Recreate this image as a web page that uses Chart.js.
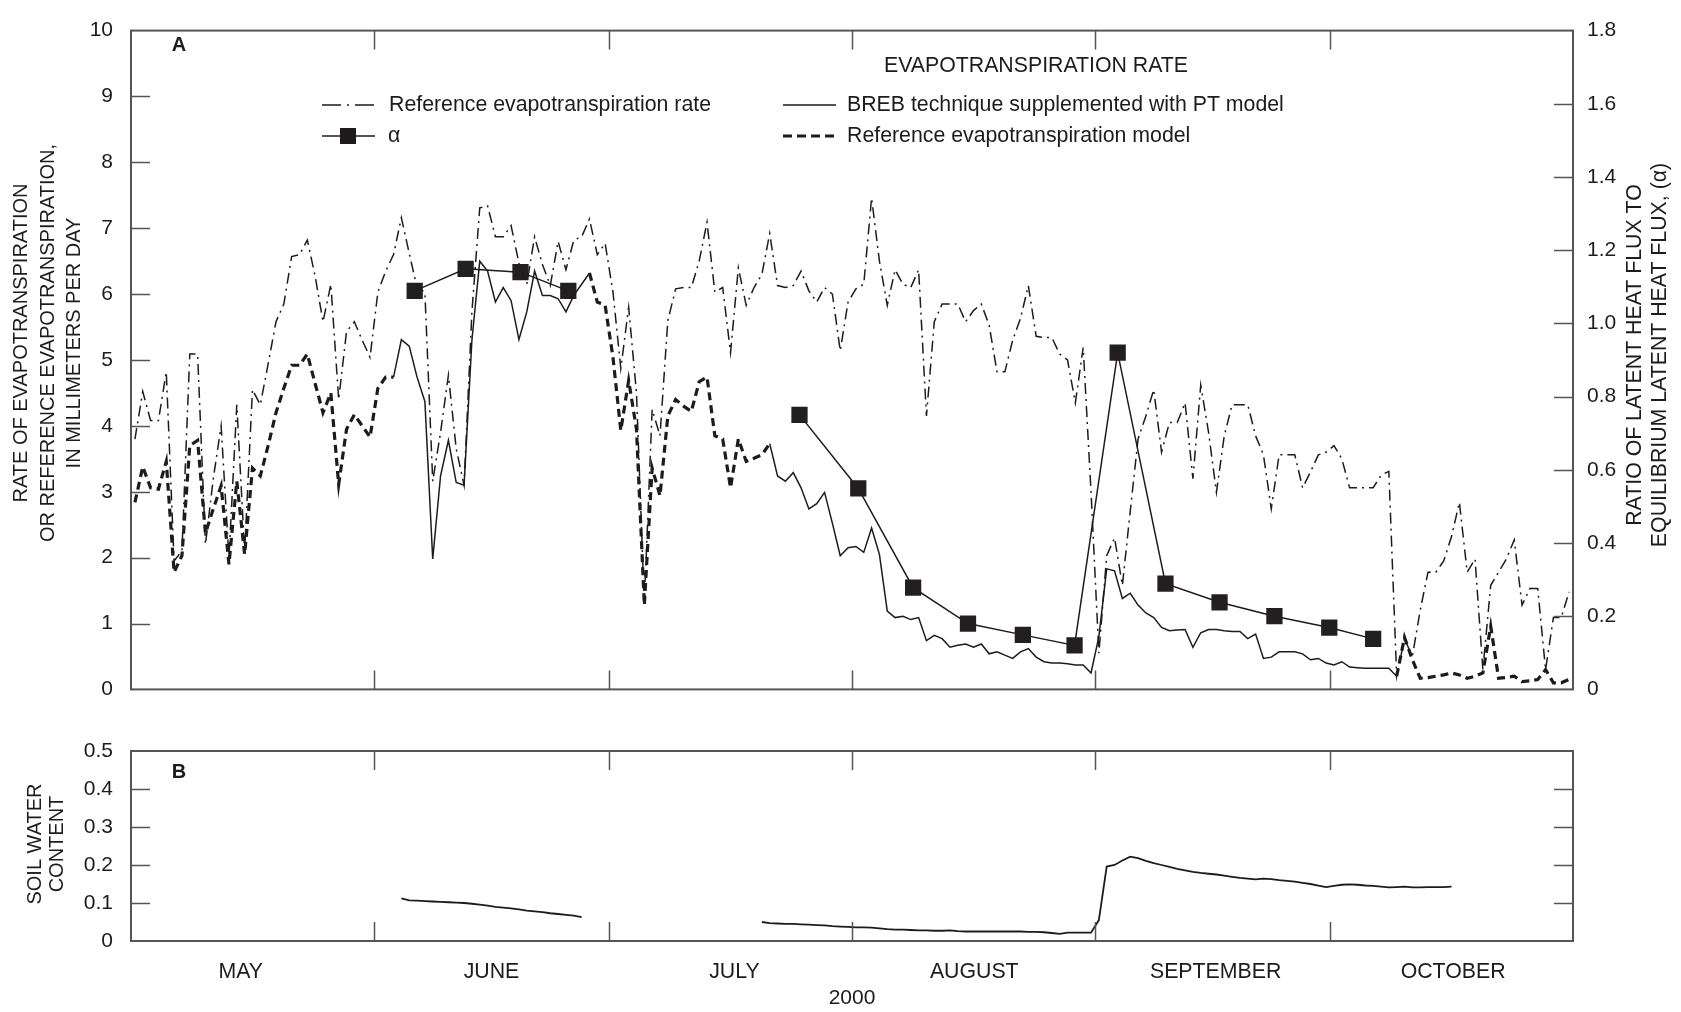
<!DOCTYPE html>
<html lang="en">
<head>
<meta charset="UTF-8">
<title>Evapotranspiration rate and soil water content, 2000</title>
<script src="https://cdn.jsdelivr.net/npm/chart.js"></script>
<style>
  body { margin: 0; background: #fff; }
  .wrap { position: relative; width: 1681px; height: 1012px; }
  #etChart { position: absolute; left: 0; top: 0; }
  #soilChart { position: absolute; left: 0; top: 720px; }
</style>
</head>
<body>
<div class="wrap">
  <canvas id="etChart" width="1681" height="720"></canvas>
  <canvas id="soilChart" width="1681" height="292"></canvas>
</div>
<script>
// ---- data: one value per day, index 0 = May 1, 2000 ----
const monthLabels = ['MAY', 'JUNE', 'JULY', 'AUGUST', 'SEPTEMBER', 'OCTOBER'];
const monthLabelAt = [14, 46, 77, 107.6, 138.4, 168.7];
const monthStarts = [0, 31, 61, 92, 123, 153, 184];
const yearLabel = '2000';

// reference evapotranspiration rate (mm/day), May 1 - Oct 31
const refEtRate = [
  3.8, 4.52, 4.08, 4.08, 4.82, 1.95, 2.1, 5.09, 5.09, 2.2, 3.2, 4.0, 2.0, 4.32, 2.1, 4.55,
  4.32, 4.94, 5.58, 5.85, 6.57, 6.6, 6.82, 6.27, 5.58, 6.15, 4.4, 5.43, 5.58, 5.3, 5.04,
  6.03, 6.35, 6.6, 7.16, 6.62, 6.1, 6.03, 3.16, 3.9, 4.77, 3.65, 3.1, 5.73, 7.31, 7.34,
  6.87, 6.87, 7.04, 6.47, 6.15, 6.87, 6.45, 6.13, 6.8, 6.37, 6.82, 6.87, 7.14, 6.6, 6.77,
  6.03, 4.87, 5.8, 4.5, 1.3, 4.25, 3.85, 5.6, 6.08, 6.1, 6.1, 6.5, 7.09, 6.03, 6.1, 5.11,
  6.4, 5.83, 6.1, 6.3, 6.92, 6.13, 6.1, 6.13, 6.35, 6.05, 5.88, 6.1, 6.0, 5.14, 5.88,
  6.08, 6.15, 7.46, 6.5, 5.83, 6.37, 6.15, 6.1, 6.37, 4.15, 5.58, 5.85, 5.85, 5.85, 5.58,
  5.75, 5.85, 5.53, 4.82, 4.82, 5.3, 5.63, 6.13, 5.36, 5.34, 5.34, 5.09, 5.0, 4.35, 5.19, 3.0,
  0.55, 2.03, 2.3, 1.58, 2.7, 3.8, 4.15, 4.55, 3.6, 4.05, 4.05, 4.35, 3.2, 4.62, 3.9,
  2.99, 3.85, 4.32, 4.32, 4.32, 3.85, 3.56, 2.74, 3.56, 3.56, 3.56, 3.06, 3.3, 3.56, 3.6,
  3.7, 3.5, 3.06, 3.06, 3.06, 3.06, 3.25, 3.31, 0.2, 0.77, 0.5, 1.2, 1.78, 1.78, 1.95, 2.32,
  2.84, 1.78, 1.98, 0.3, 1.58, 1.78, 1.98, 2.27, 1.28, 1.53, 1.53, 0.3, 1.09, 1.09, 1.48
];

// reference evapotranspiration model, used where BREB data are missing
const refModelMay = [ // from day 0
  2.84, 3.38, 3.06, 3.04, 3.46, 1.78, 2.03, 3.7, 3.78, 2.37, 2.74, 3.09, 1.9, 3.16, 2.05, 3.36,
  3.24, 3.7, 4.2, 4.57, 4.92, 4.92, 5.09, 4.64, 4.2, 4.5, 3.11, 3.95, 4.17, 4.0, 3.83,
  4.57, 4.74, 4.74
];
const refModelJul = [ // from day 58
  6.32, 5.88, 5.83, 5.04, 3.93, 4.69, 3.95, 1.28, 3.36, 2.94, 4.15, 4.4, 4.3, 4.22, 4.67,
  4.74, 3.85, 3.8, 3.06, 3.8, 3.46, 3.51, 3.56, 3.73
];
const refModelOct = [ // from day 161
  0.2, 0.79, 0.45, 0.17, 0.18, 0.2, 0.22, 0.25, 0.22, 0.17, 0.2, 0.25, 0.96, 0.17, 0.18,
  0.2, 0.12, 0.13, 0.15, 0.3, 0.1, 0.1, 0.15
];

// BREB technique supplemented with PT model
const brebJun = [ // from day 33
  4.74, 5.31, 5.21, 4.74, 4.37, 1.98, 3.24, 3.78, 3.14, 3.1, 5.3, 6.5, 6.35, 5.88, 6.1,
  5.9, 5.31, 5.73, 6.35, 5.98, 5.98, 5.93, 5.73, 5.98, 6.15, 6.32
];
const brebJul = [ // from day 81
  3.73, 3.24, 3.16, 3.29, 3.06, 2.74, 2.82, 2.99, 2.52, 2.03, 2.15,
  2.17, 2.08, 2.45, 2.05, 1.19, 1.09, 1.11, 1.06, 1.09, 0.74, 0.82, 0.77, 0.64, 0.67, 0.69,
  0.64, 0.69, 0.54, 0.57, 0.52, 0.47, 0.57, 0.62, 0.49, 0.42, 0.4, 0.4, 0.39, 0.37, 0.37, 0.25,
  0.8, 1.83, 1.8, 1.38, 1.46, 1.28, 1.16, 1.09, 0.94, 0.89, 0.9, 0.91, 0.64, 0.86, 0.91,
  0.91, 0.89, 0.88, 0.88, 0.77, 0.84, 0.47, 0.49, 0.57, 0.57, 0.57, 0.54, 0.45, 0.47, 0.4,
  0.37, 0.42, 0.34, 0.33, 0.32, 0.32, 0.32, 0.32, 0.2
];

// ratio of latent heat flux to equilibrium latent heat flux (alpha)
const alphaDays = [36.2, 42.7, 49.7, 55.8, 85.3, 92.8, 99.8, 106.8, 113.8, 120.4, 125.9, 132.0, 138.9, 145.9, 152.9, 158.5];
const alphaValues = [1.089, 1.149, 1.14, 1.089, 0.75, 0.549, 0.278, 0.18, 0.149, 0.12, 0.92, 0.289, 0.238, 0.2, 0.169, 0.138];

// soil water content
const soilJun = [ // from day 34
  0.112, 0.107, 0.106, 0.105, 0.104, 0.103, 0.102, 0.101, 0.1, 0.098, 0.096, 0.093, 0.09,
  0.088, 0.086, 0.083, 0.08, 0.078, 0.076, 0.073, 0.071, 0.069, 0.067, 0.063
];
const soilJul = [ // from day 80
  0.05, 0.047, 0.046, 0.045, 0.045, 0.044, 0.043, 0.042, 0.041, 0.039,
  0.038, 0.037, 0.036, 0.036, 0.035, 0.033, 0.031, 0.03, 0.03, 0.029,
  0.028, 0.028, 0.027, 0.027, 0.028, 0.026, 0.025, 0.025, 0.025, 0.025,
  0.025, 0.025, 0.025, 0.025, 0.024, 0.024, 0.023, 0.021, 0.019, 0.022,
  0.022, 0.022, 0.022, 0.055, 0.196, 0.2, 0.212, 0.222, 0.218, 0.211,
  0.205, 0.2, 0.195, 0.19, 0.186, 0.182, 0.179, 0.177, 0.175, 0.172,
  0.169, 0.166, 0.164, 0.162, 0.164, 0.163, 0.16, 0.158, 0.156, 0.153,
  0.15, 0.146, 0.142, 0.145, 0.148, 0.149, 0.148, 0.146, 0.145, 0.143,
  0.141, 0.142, 0.143, 0.141, 0.141, 0.142, 0.142, 0.142, 0.143
];

// ---- helpers ----
const DAYS = 184;
const INK = '#1d1b1c';
const AXIS = '#555555';
const FONT = '"Liberation Sans", Arial, sans-serif';
const TEXT = '21.3px ' + FONT;
const TITLE = '20px ' + FONT;
const TICK = 19;

function place(pieces) {
  const out = new Array(DAYS).fill(null);
  pieces.forEach(([start, values]) => values.forEach((v, k) => { out[start + k] = v; }));
  return out;
}
function toPoints(arr) {
  return arr.map((v, i) => ({ x: i + 0.5, y: v }));
}

const refModel = place([[0, refModelMay], [58, refModelJul], [161, refModelOct]]);
const breb = place([[33, brebJun], [81, brebJul]]);
const soil = place([[34, soilJun], [80, soilJul]]);

Chart.defaults.font.family = FONT;
Chart.defaults.font.size = 21;
Chart.defaults.color = INK;
Chart.defaults.animation = false;

function drawFrame(chart, leftTicks, rightTicks, leftScale, rightScale) {
  const { ctx, chartArea: a } = chart;
  const x = chart.scales.x;
  ctx.save();
  ctx.strokeStyle = AXIS;
  ctx.lineWidth = 2;
  ctx.strokeRect(a.left, a.top, a.right - a.left, a.bottom - a.top);
  ctx.lineWidth = 1.5;
  ctx.beginPath();
  monthStarts.slice(1, -1).forEach(d => {
    const px = Math.round(x.getPixelForValue(d)) + 0.5;
    ctx.moveTo(px, a.top); ctx.lineTo(px, a.top + TICK);
    ctx.moveTo(px, a.bottom); ctx.lineTo(px, a.bottom - TICK);
  });
  leftTicks.forEach(v => {
    const py = Math.round(leftScale.getPixelForValue(v)) + 0.5;
    ctx.moveTo(a.left, py); ctx.lineTo(a.left + TICK, py);
  });
  rightTicks.forEach(v => {
    const py = Math.round(rightScale.getPixelForValue(v)) + 0.5;
    ctx.moveTo(a.right, py); ctx.lineTo(a.right - TICK, py);
  });
  ctx.stroke();
  ctx.restore();
}

function vText(ctx, lines, xs, cy) {
  lines.forEach((t, k) => {
    ctx.save();
    ctx.translate(xs[k], cy);
    ctx.rotate(-Math.PI / 2);
    ctx.textAlign = 'center';
    ctx.textBaseline = 'middle';
    ctx.fillText(t, 0, 0);
    ctx.restore();
  });
}

function legendLine(ctx, x1, x2, y, dash, width) {
  ctx.save();
  ctx.strokeStyle = INK;
  ctx.lineWidth = width;
  ctx.setLineDash(dash);
  ctx.beginPath();
  ctx.moveTo(x1, y); ctx.lineTo(x2, y);
  ctx.stroke();
  ctx.restore();
}

const etDecor = {
  id: 'etDecor',
  afterDatasetsDraw(chart) {
    const { ctx } = chart;
    drawFrame(chart, [1, 2, 3, 4, 5, 6, 7, 8, 9], [0.2, 0.4, 0.6, 0.8, 1.0, 1.2, 1.4, 1.6],
      chart.scales.y, chart.scales.y1);

    ctx.save();
    ctx.fillStyle = INK;
    ctx.font = 'bold 20px ' + FONT;
    ctx.textAlign = 'center';
    ctx.textBaseline = 'middle';
    ctx.fillText('A', 179, 45);

    ctx.font = TEXT;
    ctx.fillText('EVAPOTRANSPIRATION RATE', 1036, 66);

    // legend
    legendLine(ctx, 322, 375, 105, [19, 6, 2, 6], 1.5);
    legendLine(ctx, 783, 836, 105, [], 1.5);
    legendLine(ctx, 322, 375, 136, [], 1.5);
    ctx.fillRect(340, 128, 16, 16);
    legendLine(ctx, 783, 836, 136, [9, 5], 3);
    ctx.textAlign = 'left';
    ctx.fillText('Reference evapotranspiration rate', 389, 105);
    ctx.fillText('BREB technique supplemented with PT model', 847, 105);
    ctx.fillText('\u03b1', 388, 136);
    ctx.fillText('Reference evapotranspiration model', 847, 136);

    // axis titles
    ctx.font = TITLE;
    vText(ctx, ['RATE OF EVAPOTRANSPIRATION', 'OR REFERENCE EVAPOTRANSPIRATION,', 'IN MILLIMETERS PER DAY'],
      [21, 48, 74], 343);
    ctx.font = TEXT;
    vText(ctx, ['RATIO OF LATENT HEAT FLUX TO', 'EQUILIBRIUM LATENT HEAT FLUX, (\u03b1)'],
      [1635, 1660], 355);
    ctx.restore();
  }
};

const soilDecor = {
  id: 'soilDecor',
  afterDatasetsDraw(chart) {
    const { ctx } = chart;
    drawFrame(chart, [0.1, 0.2, 0.3, 0.4], [0.1, 0.2, 0.3, 0.4], chart.scales.y, chart.scales.y);
    ctx.save();
    ctx.fillStyle = INK;
    ctx.font = 'bold 20px ' + FONT;
    ctx.textAlign = 'center';
    ctx.textBaseline = 'middle';
    ctx.fillText('B', 179, 52);
    ctx.font = TITLE;
    vText(ctx, ['SOIL WATER', 'CONTENT'], [35, 57], 124);
    ctx.restore();
  }
};

const oneDecimal = v => (v === 0 ? '0' : v.toFixed(1));

new Chart(document.getElementById('etChart'), {
  type: 'line',
  data: {
    datasets: [
      {
        label: 'Reference evapotranspiration model',
        data: toPoints(refModel),
        borderColor: INK, borderWidth: 3.2, borderDash: [8, 5],
        pointRadius: 0, tension: 0, spanGaps: false, yAxisID: 'y'
      },
      {
        label: 'Reference evapotranspiration rate',
        data: toPoints(refEtRate),
        borderColor: INK, borderWidth: 1.5, borderDash: [11, 5, 2, 5],
        pointRadius: 0, tension: 0, yAxisID: 'y'
      },
      {
        label: 'BREB technique supplemented with PT model',
        data: toPoints(breb),
        borderColor: INK, borderWidth: 1.5,
        pointRadius: 0, tension: 0, spanGaps: false, yAxisID: 'y'
      },
      {
        label: '\u03b1',
        data: alphaDays.map((d, i) => ({ x: d, y: alphaValues[i] })),
        borderColor: INK, borderWidth: 1.5,
        pointStyle: 'rect', pointRadius: 11.5, pointBorderWidth: 0,
        pointBackgroundColor: '#231f20',
        segment: {
          borderColor: ctx => (ctx.p1.parsed.x - ctx.p0.parsed.x > 20 ? 'rgba(0,0,0,0)' : INK)
        },
        yAxisID: 'y1'
      }
    ]
  },
  options: {
    responsive: false,
    layout: { padding: { top: 18, bottom: 27, left: 0, right: 0 } },
    plugins: { legend: { display: false }, tooltip: { enabled: false } },
    scales: {
      x: { type: 'linear', min: 0, max: DAYS, display: false },
      y: {
        position: 'left', min: 0, max: 10,
        ticks: { stepSize: 1, padding: 18, color: INK },
        grid: { display: false, drawTicks: false },
        border: { display: false },
        afterFit: s => { s.width = 131; }
      },
      y1: {
        position: 'right', min: 0, max: 1.8,
        ticks: { stepSize: 0.2, padding: 14, color: INK, callback: oneDecimal },
        grid: { display: false, drawTicks: false },
        border: { display: false },
        afterFit: s => { s.width = 108; }
      }
    }
  },
  plugins: [etDecor]
});

new Chart(document.getElementById('soilChart'), {
  type: 'line',
  data: {
    datasets: [{
      label: 'Soil water content',
      data: toPoints(soil),
      borderColor: INK, borderWidth: 1.8,
      pointRadius: 0, tension: 0, spanGaps: false
    }]
  },
  options: {
    responsive: false,
    layout: { padding: { top: 31, bottom: 0, left: 0, right: 108 } },
    plugins: { legend: { display: false }, tooltip: { enabled: false } },
    scales: {
      x: {
        type: 'linear', min: 0, max: DAYS, position: 'bottom',
        afterBuildTicks: s => { s.ticks = monthLabelAt.map(v => ({ value: v })); },
        ticks: { autoSkip: false, maxRotation: 0, padding: 18, color: INK,
                 font: { size: 21.3 }, callback: (v, i) => monthLabels[i] },
        grid: { display: false, drawTicks: false },
        border: { display: false },
        title: { display: true, text: yearLabel, color: INK, font: { size: 21 },
                 padding: { top: 0, bottom: 1 } },
        afterFit: s => { s.height = 71; }
      },
      y: {
        position: 'left', min: 0, max: 0.5,
        ticks: { stepSize: 0.1, padding: 18, color: INK, callback: oneDecimal },
        grid: { display: false, drawTicks: false },
        border: { display: false },
        afterFit: s => { s.width = 131; }
      }
    }
  },
  plugins: [soilDecor]
});
</script>
</body>
</html>
